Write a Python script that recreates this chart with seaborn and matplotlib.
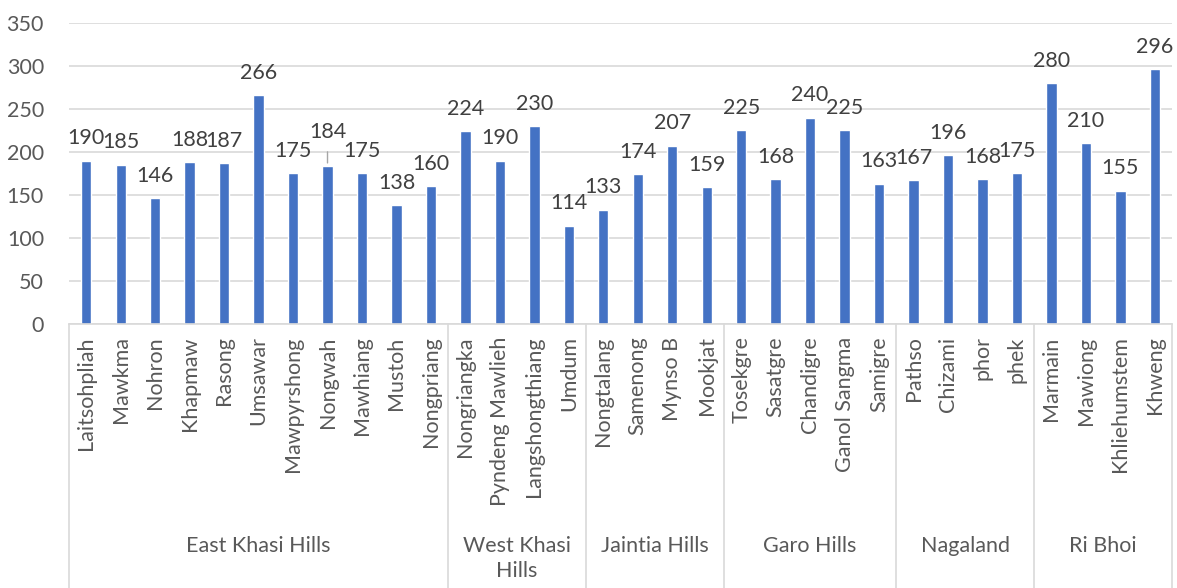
import textwrap
import matplotlib
matplotlib.use("Agg")
import matplotlib.pyplot as plt
import matplotlib.transforms as mtransforms
import pandas as pd
import seaborn as sns

# Sites grouped by district, with their counts
groups = ["East Khasi Hills", "West Khasi Hills", "Jaintia Hills",
          "Garo Hills", "Nagaland", "Ri Bhoi"]
east_khasi = ["Laitsohpliah", "Mawkma", "Nohron", "Khapmaw", "Rasong", "Umsawar",
              "Mawpyrshong", "Nongwah", "Mawhiang", "Mustoh", "Nongpriang"]
east_khasi_vals = [190, 185, 146, 188, 187, 266, 175, 184, 175, 138, 160]
west_khasi = ["Nongriangka", "Pyndeng Mawlieh", "Langshongthiang", "Umdum"]
west_khasi_vals = [224, 190, 230, 114]
jaintia = ["Nongtalang", "Samenong", "Mynso B", "Mookjat"]
jaintia_vals = [133, 174, 207, 159]
garo = ["Tosekgre", "Sasatgre", "Chandigre", "Ganol Sangma", "Samigre"]
garo_vals = [225, 168, 240, 225, 163]
nagaland = ["Pathso", "Chizami", "phor", "phek"]
nagaland_vals = [167, 196, 168, 175]
ri_bhoi = ["Marmain", "Mawiong", "Khliehumstem", "Khweng"]
ri_bhoi_vals = [280, 210, 155, 296]

site_lists = [east_khasi, west_khasi, jaintia, garo, nagaland, ri_bhoi]
value_lists = [east_khasi_vals, west_khasi_vals, jaintia_vals, garo_vals,
               nagaland_vals, ri_bhoi_vals]

rows = []
for g, sites, vals in zip(groups, site_lists, value_lists):
    for s, v in zip(sites, vals):
        rows.append({"district": g, "site": s, "value": v})
df = pd.DataFrame(rows)

sns.set_theme(style="white")
plt.rcParams["font.family"] = ["Lato", "DejaVu Sans"]

text_color = "#595959"
grid_color = "#d9d9d9"
bar_color = "#4472C4"
fs = 15.5

fig = plt.figure(figsize=(11.77, 5.88), dpi=100)
ax = fig.add_axes([0.0586, 0.449, 0.9372, 0.512])

sns.barplot(data=df, x="site", y="value", color=bar_color, width=0.3,
            saturation=1, ax=ax, errorbar=None)

ax.set_ylim(0, 350)
ax.set_yticks(range(0, 351, 50))
ax.yaxis.grid(True, color=grid_color, linewidth=1.2)
ax.set_axisbelow(True)
ax.set_xlabel("")
ax.set_ylabel("")
for side in ["top", "right", "left"]:
    ax.spines[side].set_visible(False)
ax.spines["bottom"].set_color(grid_color)
ax.spines["bottom"].set_linewidth(1.2)
ax.tick_params(axis="y", length=0, labelsize=fs, labelcolor=text_color, pad=18)
ax.tick_params(axis="x", length=0, labelsize=fs, labelcolor=text_color, pad=9)
for lab in ax.get_xticklabels():
    lab.set_rotation(90)
    lab.set_va("top")
    lab.set_ha("center")

# Value labels above each bar; one label lifted with a leader line
bars = ax.containers[0]
labels = ax.bar_label(bars, labels=[str(v) for v in df["value"]],
                      padding=9, fontsize=fs, color="#404040")
lift = {"Nongwah": 8}
for i, site in enumerate(df["site"]):
    if site in lift:
        x, y = labels[i].xyann
        labels[i].xyann = (x, y + lift[site])
        val = df["value"][i]
        ax.annotate("", xy=(i, val), xytext=(0, 12), textcoords="offset points",
                    arrowprops=dict(arrowstyle="-", color="#a6a6a6", lw=1))

# District separators and labels below the site names
trans = mtransforms.blended_transform_factory(ax.transData, ax.transAxes)
start = 0
bounds = [-0.5]
for g, sites in zip(groups, site_lists):
    n = len(sites)
    end = start + n
    bounds.append(end - 0.5)
    center = start + (n - 1) / 2
    ax.text(center, -0.705, textwrap.fill(g, width=int(n * 3.9)),
            transform=trans, ha="center", va="top", fontsize=fs,
            color=text_color, linespacing=1.3, clip_on=False)
    start = end
for b in bounds:
    ax.plot([b, b], [0, -0.88], transform=trans, color=grid_color,
            linewidth=1.2, clip_on=False)

ax.set_xlim(-0.5, len(df) - 0.5)
fig.savefig("out.png", dpi=100)
